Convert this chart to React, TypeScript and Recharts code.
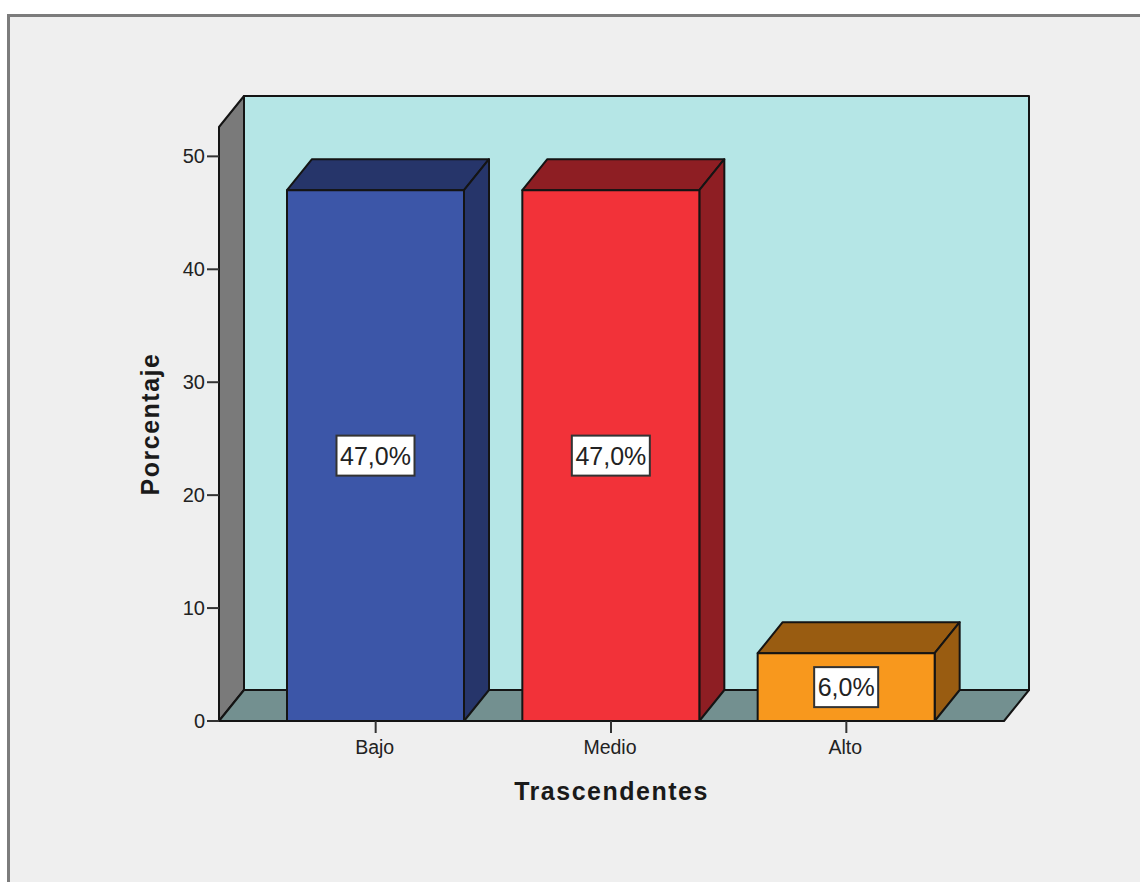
import { Bar, BarChart, LabelList, XAxis, YAxis, usePlotArea } from "recharts"

const CATEGORIES = ["Bajo", "Medio", "Alto"]
const PERCENTAGES = [47, 47, 6]
const Y_TICKS = [0, 10, 20, 30, 40, 50]
const Y_MAX = 52.6

const FRONT_COLORS = ["#3c56a8", "#f23239", "#f8981d"]
const DARK_COLORS = ["#26356a", "#8e1e23", "#995c11"]

const DEPTH_X = 25
const DEPTH_Y = 31
const INK = "#141414"
const FONT = "'Liberation Sans', Arial, sans-serif"

const data = CATEGORIES.map((name, i) => ({ name, value: PERCENTAGES[i] }))

const pts = (list: number[][]) => list.map((p) => p.join(",")).join(" ")

// back wall, side wall and floor of the 3D box
function Walls() {
  const area = usePlotArea()
  if (!area) return null
  const { x, y, width, height } = area
  const r = x + width
  const b = y + height
  return (
    <g stroke={INK} strokeWidth={2} strokeLinejoin="round">
      <polygon fill="#b5e6e6" points={pts([[x + DEPTH_X, y - DEPTH_Y], [r + DEPTH_X, y - DEPTH_Y], [r + DEPTH_X, b - DEPTH_Y], [x + DEPTH_X, b - DEPTH_Y]])} />
      <polygon fill="#7a7a7a" points={pts([[x, y], [x + DEPTH_X, y - DEPTH_Y], [x + DEPTH_X, b - DEPTH_Y], [x, b]])} />
      <polygon fill="#739090" points={pts([[x, b], [x + DEPTH_X, b - DEPTH_Y], [r + DEPTH_X, b - DEPTH_Y], [r, b]])} />
    </g>
  )
}

function Box3D(props: any) {
  const { x, y, width, height, index } = props
  const r = x + width
  const b = y + height
  return (
    <g stroke={INK} strokeWidth={2} strokeLinejoin="round">
      <polygon fill={DARK_COLORS[index]} points={pts([[x, y], [x + DEPTH_X, y - DEPTH_Y], [r + DEPTH_X, y - DEPTH_Y], [r, y]])} />
      <polygon fill={DARK_COLORS[index]} points={pts([[r, y], [r + DEPTH_X, y - DEPTH_Y], [r + DEPTH_X, b - DEPTH_Y], [r, b]])} />
      <rect x={x} y={y} width={width} height={height} fill={FRONT_COLORS[index]} />
    </g>
  )
}

function ValueTag(props: any) {
  const { x, y, width, height, value } = props
  const text = `${Number(value).toFixed(1).replace(".", ",")}%`
  const w = text.length * 14 + 8
  const h = 40
  const cx = x + width / 2
  const cy = y + height / 2
  return (
    <g>
      <rect x={cx - w / 2} y={cy - h / 2} width={w} height={h} fill="#ffffff" stroke="#333333" strokeWidth={2} />
      <text x={cx} y={cy + 9} textAnchor="middle" fontSize={25} fontFamily={FONT} fill="#222222">
        {text}
      </text>
    </g>
  )
}

export default function App() {
  return (
    <div style={{ position: "absolute", left: 0, top: 0, width: 1140, height: 882, background: "#ffffff", overflow: "hidden" }}>
      <div
        style={{
          position: "absolute",
          left: 7,
          top: 14,
          width: 1133,
          height: 868,
          boxSizing: "border-box",
          background: "#efefef",
          borderLeft: "3px solid #7c7c7c",
          borderTop: "3px solid #7c7c7c",
        }}
      />
      <div style={{ position: "absolute", left: 0, top: 0 }}>
        <BarChart
          width={1140}
          height={882}
          data={data}
          barSize={177}
          margin={{ top: 127, right: 136, bottom: 101, left: 159 }}
        >
          <Walls />
          <XAxis
            dataKey="name"
            height={60}
            padding={{ left: 39, right: 40 }}
            axisLine={{ stroke: INK, strokeWidth: 2 }}
            tickLine={{ stroke: "#333333", strokeWidth: 2 }}
            tickSize={12}
            tickMargin={7}
            tick={{ fontSize: 19.5, fontFamily: FONT, fill: "#222222", dx: -1 }}
            label={{
              value: "Trascendentes",
              position: "insideBottom",
              offset: -19,
              fontSize: 25,
              fontWeight: 700,
              letterSpacing: 1.5,
              fontFamily: FONT,
              fill: "#1a1a1a",
            }}
          />
          <YAxis
            width={60}
            domain={[0, Y_MAX]}
            ticks={Y_TICKS}
            interval={0}
            axisLine={{ stroke: INK, strokeWidth: 2 }}
            tickLine={{ stroke: "#333333", strokeWidth: 2 }}
            tickSize={12}
            tick={{ fontSize: 20, fontFamily: FONT, fill: "#222222" }}
            label={{
              value: "Porcentaje",
              angle: -90,
              position: "insideLeft",
              offset: -9,
              textAnchor: "middle",
              fontSize: 25,
              fontWeight: 700,
              letterSpacing: 1.5,
              fontFamily: FONT,
              fill: "#1a1a1a",
            }}
          />
          <Bar dataKey="value" shape={Box3D} isAnimationActive={false}>
            <LabelList dataKey="value" content={ValueTag} />
          </Bar>
        </BarChart>
      </div>
    </div>
  )
}
